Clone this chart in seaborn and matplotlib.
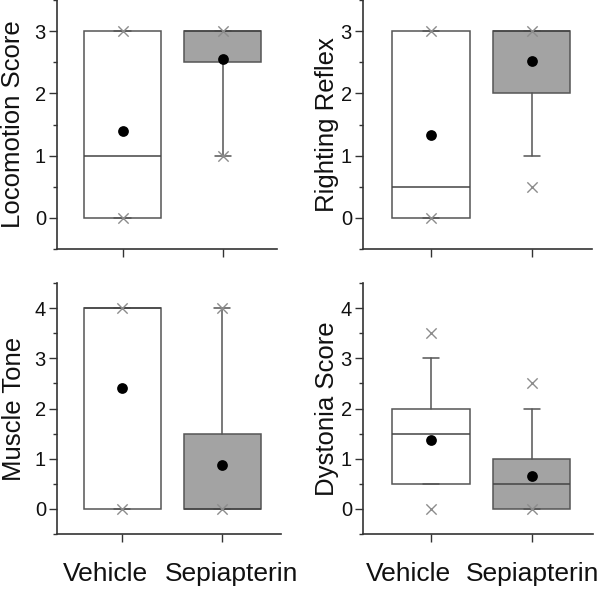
import numpy as np
import pandas as pd
import matplotlib
matplotlib.use("Agg")
import matplotlib.pyplot as plt
from matplotlib.ticker import MultipleLocator
import seaborn as sns

# summary statistics (Origin-style box charts)
panels = ["Locomotion Score", "Righting Reflex", "Muscle Tone", "Dystonia Score"]
groups = ["Vehicle", "Sepiapterin"]

q1 = [[0, 2.5], [0, 2], [0, 0], [0.5, 0]]
median = [[1, 3], [0.5, 3], [4, 0], [1.5, 0.5]]
q3 = [[3, 3], [3, 3], [4, 1.5], [2, 1]]
whisker_lo = [[0, 1], [0, 1], [0, 0], [0.5, 0]]
whisker_hi = [[3, 3], [3, 3], [4, 4], [3, 2]]
minimum = [[0, 1], [0, 0.5], [0, 0], [0, 0]]
maximum = [[3, 3], [3, 3], [4, 4], [3.5, 2.5]]
mean = [[1.4, 2.55], [1.33, 2.52], [2.4, 0.88], [1.38, 0.65]]

yticks = [[0, 1, 2, 3], [0, 1, 2, 3], [0, 1, 2, 3, 4], [0, 1, 2, 3, 4]]

sns.set_style("ticks")
plt.rcParams['font.family'] = ['Liberation Sans', 'DejaVu Sans']

W, H = 601, 589
fig = plt.figure(figsize=(W / 100, H / 100), dpi=100)

rects = [(57, 0, 277, 249), (363, 0, 592, 249), (57, 283, 281, 534), (363, 283, 593, 534)]
xlims = [(0.347, 2.54), (0.325, 2.6), (0.347, 2.59), (0.324, 2.61)]
ylims = [(-0.5, 3.5), (-0.5, 3.5), (-0.5, 4.5), (-0.5, 4.5)]
label_x = [-0.145, -0.105, -0.138, -0.105]
name_shift = [(-17, 9), (-23, 1)]

fills = ["white", "#a3a3a3"]
edge = "#555555"
pos = np.arange(1, len(groups) + 1)

for i, name in enumerate(panels):
    x0, y0, x1, y1 = rects[i]
    ax = fig.add_axes([x0 / W, 1 - y1 / H, (x1 - x0) / W, (y1 - y0) / H])

    stats = []
    for j in range(len(groups)):
        stats.append(dict(med=median[i][j], q1=q1[i][j], q3=q3[i][j],
                          whislo=whisker_lo[i][j], whishi=whisker_hi[i][j], fliers=[]))
    bp = ax.bxp(stats, positions=pos, widths=0.77, capwidths=0.16,
                patch_artist=True, showfliers=False,
                boxprops=dict(edgecolor=edge, linewidth=1.1),
                medianprops=dict(color="#444444", linewidth=1.1),
                whiskerprops=dict(color=edge, linewidth=1.1),
                capprops=dict(color=edge, linewidth=1.1))
    for patch, c in zip(bp['boxes'], fills):
        patch.set_facecolor(c)

    ext = pd.DataFrame({"x": np.concatenate([pos, pos]),
                        "y": minimum[i] + maximum[i]})
    sns.scatterplot(data=ext, x="x", y="y", marker="x", color="#8c8c8c",
                    s=55, linewidth=1, ax=ax, zorder=4)
    means = pd.DataFrame({"x": pos, "y": mean[i]})
    sns.scatterplot(data=means, x="x", y="y", color="black", s=60,
                    edgecolor="black", linewidth=0, ax=ax, zorder=5)

    ax.set_xlim(*xlims[i])
    ax.set_ylim(*ylims[i])
    ax.set_xticks(pos)
    ax.set_xticklabels([])
    ax.set_yticks(yticks[i])
    ax.yaxis.set_minor_locator(MultipleLocator(0.5))
    ax.tick_params(axis="both", which="major", direction="out", length=6,
                   width=1, color="#333333", labelsize=14.5, pad=2,
                   labelcolor="#111111")
    ax.tick_params(axis="y", which="minor", direction="out", length=3,
                   width=1, color="#333333")
    ax.set_xlabel("")
    ax.set_ylabel(name, fontsize=18.5, color="#111111")
    ax.yaxis.set_label_coords(label_x[i], 0.5)
    sns.despine(ax=ax)
    for s in ["left", "bottom"]:
        ax.spines[s].set_color("#333333")
        ax.spines[s].set_linewidth(1.2)

    if i >= 2:
        shifts = name_shift[i - 2]
        for p, g, dx in zip(pos, groups, shifts):
            ax.annotate(g, xy=(p, 0), xycoords=ax.get_xaxis_transform(),
                        xytext=(dx * 0.72, -20), textcoords="offset points",
                        ha="center", va="top", fontsize=19, color="#111111")

fig.savefig("out.png", dpi=100)
